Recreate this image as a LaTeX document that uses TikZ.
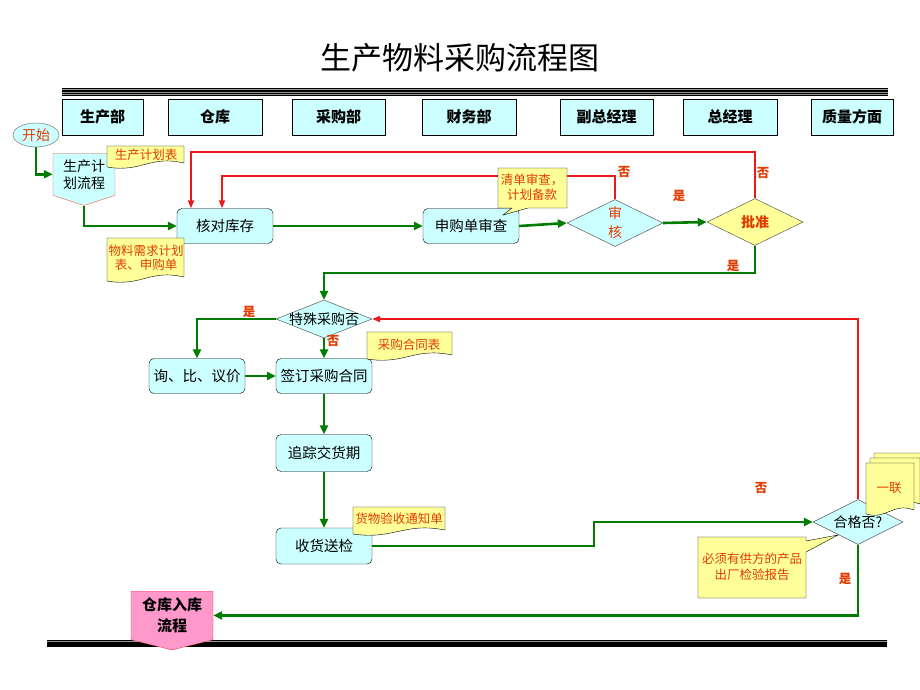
\documentclass[tikz,border=0pt]{standalone}
\usepackage{fontspec}
\setmainfont{Noto Sans CJK SC}
\usepackage{tikz}
\usetikzlibrary{positioning,arrows.meta,shapes.geometric,shapes.symbols}
\definecolor{boxcyan}{RGB}{204,255,255}
\definecolor{noteyellow}{RGB}{255,255,153}
\definecolor{flowgreen}{RGB}{0,125,0}
\definecolor{backred}{RGB}{235,25,25}
\definecolor{notered}{RGB}{225,60,0}
\definecolor{pinkfill}{RGB}{255,153,204}
\definecolor{bargray}{RGB}{150,150,150}
\tikzset{
  dept-box/.style={draw=black, fill=boxcyan, minimum width=93pt, minimum height=36pt,
    font=\fontsize{15}{15}\selectfont\bfseries, inner sep=0pt},
  proc-box/.style={draw=black, fill=boxcyan, rounded corners=5pt, minimum width=96pt,
    minimum height=35pt, font=\fontsize{14.5}{16}\selectfont, inner sep=0pt, align=center},
  decision-node/.style={diamond, draw=black!75, fill=boxcyan, minimum width=96pt,
    minimum height=47pt, inner sep=0pt},
  offpage-node/.style={signal, signal to=south, draw, align=center, inner sep=0pt},
  doc-shape/.style={draw=black, fill=noteyellow},
  note-text/.style={font=\fontsize{12.5}{14.5}\selectfont, text=notered, align=center, inner sep=0pt},
  branch-label/.style={font=\fontsize{12.5}{12.5}\selectfont\bfseries, text=notered},
  flow-arrow/.style={-{Triangle[length=9pt,width=8pt]}, line width=2.6pt, draw=flowgreen},
  back-arrow/.style={-{Triangle[length=8pt,width=6pt]}, line width=1.8pt, draw=backred}
}
% document shape with a wavy lower edge: x1,y1,x2,y2
\newcommand\docnote[4]{%
  \draw[doc-shape] (#1,#2) -- (#3,#2) -- (#3,{#4-4})
    .. controls ({#1+0.55*(#3-#1)},{#4-12}) and ({#1+0.45*(#3-#1)},{#4+6}) .. (#1,#4) -- cycle;}
\begin{document}
\begin{tikzpicture}[x=1pt, y=-1pt]
\useasboundingbox[fill=white] (0,0) rectangle (920,690);

% Title and bars
\node[font=\fontsize{31}{31}\selectfont] (title) at (460,58) {生产物料采购流程图};
\fill[bargray] (62,88) rectangle (888,96);
\foreach \yy in {88.6,91,93.4,95.6} \draw[line width=1.1pt] (62,\yy) -- (888,\yy);
\fill[bargray] (47,640) rectangle (887,647);
\foreach \yy in {640.6,643,645,646.6} \draw[line width=1.1pt] (47,\yy) -- (887,\yy);

% Departments
\node[dept-box, minimum width=81pt] (dprod) at (102.5,117) {生产部};
\node[dept-box, minimum width=94pt] (dstore) at (215,117) {仓库};
\node[dept-box] (dbuy) at (338.5,117) {采购部};
\node[dept-box, minimum width=94pt] (dfin) at (469,117) {财务部};
\node[dept-box] (dvice) at (606.5,117) {副总经理};
\node[dept-box, minimum width=94pt] (dgm) at (730,117) {总经理};
\node[dept-box, minimum width=82pt] (dqual) at (852,117) {质量方面};

% Flow nodes
\node[ellipse, draw=black!60, fill=boxcyan, minimum width=46pt, minimum height=24pt, inner sep=0pt,
  font=\fontsize{14}{14}\selectfont, text=notered] (start) at (36,135) {开始};
\node[offpage-node, fill=boxcyan, draw=notered!80, signal pointer angle=144,
  minimum width=62pt, minimum height=49pt, font=\fontsize{14}{17}\selectfont,
  anchor=north] (plan) at (84,153) {生产计\\划流程};
\node[proc-box] (check) at (225,226) {核对库存};
\node[proc-box] (apply) at (471,226) {申购单审查};
\node[decision-node] (review) at (615,223) {};
\node[font=\fontsize{14}{19}\selectfont, text=notered, align=center] (reviewtxt) at (review) {审\\核};
\node[decision-node, fill=noteyellow] (approve) at (755,222) {};
\node[font=\fontsize{14}{14}\selectfont\bfseries, text=notered] (approvetxt) at (approve) {批准};
\node[decision-node, minimum height=38pt] (special) at (324,319) {};
\node[font=\fontsize{14}{14}\selectfont] (specialtxt) at (special) {特殊采购否};
\node[proc-box] (inquire) at (197,376) {询、比、议价};
\node[proc-box] (contract) at (324,376) {签订采购合同};
\node[proc-box, minimum height=37pt] (track) at (324,453) {追踪交货期};
\node[proc-box, minimum height=36pt] (receive) at (324,546) {收货送检};
\node[decision-node, minimum width=90pt, minimum height=45pt] (qual) at (858,522) {};
\node[font=\fontsize{14}{14}\selectfont] (qualtxt) at (qual) {合格否?};
\node[offpage-node, fill=pinkfill, draw=backred!80, signal pointer angle=152,
  minimum width=82pt, minimum height=56pt, font=\fontsize{15}{21}\selectfont\bfseries,
  anchor=north] (store) at (172,591) {仓库入库\\流程};

% Forward flow
\coordinate (g1) at (0,273);
\coordinate (g2) at (594,0);
\draw[flow-arrow] (start.south) |- (plan.west);
\draw[flow-arrow] (plan.south) |- (check.west);
\draw[flow-arrow] (check.east) -- (apply.west);
\draw[flow-arrow] (apply.east) -- (review.west);
\draw[flow-arrow] (review.east) -- (approve.west);
\draw[flow-arrow] (approve.south) -- (approve.south |- g1) -| (special.north);
\draw[flow-arrow] (special.west) -| (inquire.north);
\draw[flow-arrow] (special.south) -- (contract.north);
\draw[flow-arrow] (inquire.east) -- (contract.west);
\draw[flow-arrow] (contract.south) -- (track.north);
\draw[flow-arrow] (track.south) -- (receive.north);
\draw[flow-arrow] (receive.east) -- (receive.east -| g2) |- (qual.west);
\draw[flow-arrow] (qual.south) |- (store.east);

% Return flow
\coordinate (r1) at (191,152);
\coordinate (r2) at (222,176);
\draw[back-arrow] (approve.north) |- (r1) -- (r1 |- check.north);
\draw[back-arrow] (review.north) |- (r2) -- (r2 |- check.north);
\draw[back-arrow] (qual.north) |- (special.east);

% Branch labels
\node[branch-label] (lno1) at (624,172) {否};
\node[branch-label] (lyes1) at (679,196) {是};
\node[branch-label] (lno2) at (763,173) {否};
\node[branch-label] (lyes2) at (733,266) {是};
\node[branch-label] (lyes3) at (249,312) {是};
\node[branch-label] (lno3) at (333,341) {否};
\node[branch-label] (lno4) at (761,488) {否};
\node[branch-label] (lyes4) at (845,579) {是};

% Document notes
\docnote{107}{146}{184}{167}
\node[note-text] (nplan) at (146,155) {生产计划表};
\docnote{107}{238}{184}{281}
\node[note-text] (nneed) at (146,258) {物料需求计划\\表、申购单};
\docnote{367}{332}{452}{359}
\node[note-text] (ncontract) at (409,345) {采购合同表};
\docnote{353}{507}{445}{534}
\node[note-text] (nnotice) at (399,519) {货物验收通知单};
\docnote{874}{453}{924}{503}
\docnote{870}{458}{920}{508}
\docnote{866}{463}{914}{514}
\node[note-text] (ncopy) at (889,488) {一联};

% Callouts
\draw[doc-shape] (498,168) -- (567,168) -- (567,208) -- (528,208) -- (503,215) -- (512,208)
  -- (498,208) -- cycle;
\node[note-text] (ncheck) at (532,187) {清单审查，\\计划备款};
\draw[doc-shape] (698,537) -- (806,537) -- (806,541) -- (838,535) -- (806,552) -- (806,598)
  -- (698,598) -- cycle;
\node[note-text, font=\fontsize{12.5}{16}\selectfont] (nreport) at (752,567) {必须有供方的产品\\出厂检验报告};
\end{tikzpicture}
\end{document}
